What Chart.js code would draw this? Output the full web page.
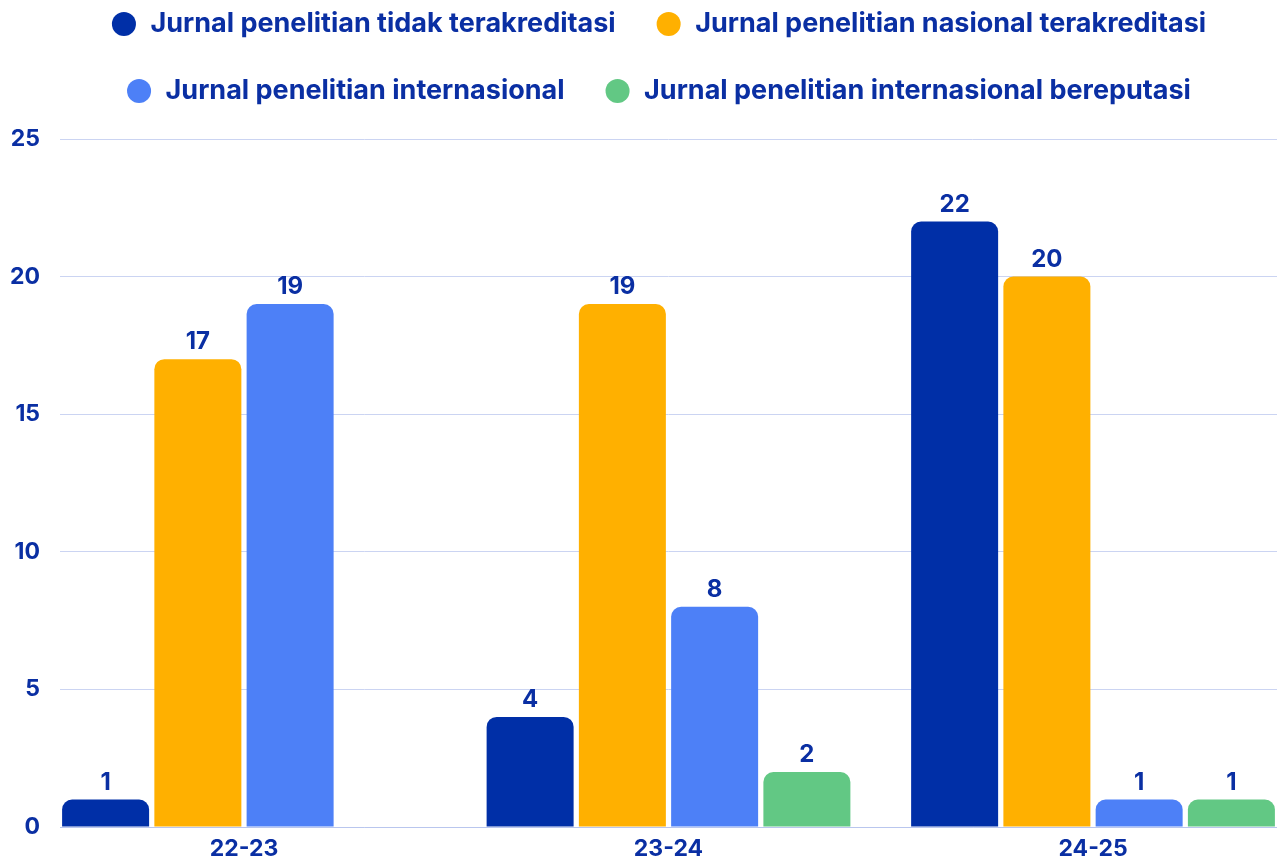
<!DOCTYPE html>
<html>
<head>
<meta charset="utf-8">
<script src="https://cdn.jsdelivr.net/npm/chart.js@4/dist/chart.umd.min.js"></script>
<style>
  html, body { margin: 0; padding: 0; background: #ffffff; }
  #wrap { width: 1277px; height: 863px; position: relative; }
</style>
</head>
<body>
<div id="wrap"><canvas id="c"></canvas></div>
<script>
// ---- data ----
const categories = ['22-23', '23-24', '24-25'];
const seriesNames = [
  'Jurnal penelitian tidak terakreditasi',
  'Jurnal penelitian nasional terakreditasi',
  'Jurnal penelitian internasional',
  'Jurnal penelitian internasional bereputasi'
];
const tidakTerakreditasi = [1, 4, 22];
const nasionalTerakreditasi = [17, 19, 20];
const internasional = [19, 8, 1];
const internasionalBereputasi = [null, 2, 1];
const yTicks = [0, 5, 10, 15, 20, 25];

const seriesValues = [tidakTerakreditasi, nasionalTerakreditasi, internasional, internasionalBereputasi];
const colors = ['#002FA7', '#FFB000', '#4D80F7', '#62C884'];
const textColor = '#0A2FA3';
const FONT = 'Inter, "Open Sans", sans-serif';

const datasets = seriesValues.map((vals, s) => ({
  label: seriesNames[s],
  data: vals.map((v, i) => ({ x: i, y: v })),
  backgroundColor: colors[s],
  borderRadius: 10,
  borderSkipped: 'start',
  categoryPercentage: 0.8693,
  barPercentage: 0.943
}));

const valueLabels = {
  id: 'valueLabels',
  afterDatasetsDraw(chart) {
    const ctx = chart.ctx;
    ctx.save();
    ctx.font = '700 24px ' + FONT;
    ctx.fillStyle = textColor;
    ctx.textAlign = 'center';
    ctx.textBaseline = 'middle';
    chart.data.datasets.forEach((ds, di) => {
      const meta = chart.getDatasetMeta(di);
      meta.data.forEach((bar, i) => {
        const v = ds.data[i].y;
        if (v === null || v === undefined) return;
        ctx.fillText(String(v), bar.x, bar.y - 17);
      });
    });
    ctx.restore();
  }
};

const legendSpace = {
  id: 'legendSpace',
  beforeInit(chart) {
    const orig = chart.legend.fit;
    chart.legend.fit = function () {
      orig.bind(chart.legend)();
      this.height += 24.5;
    };
  },
  afterLayout(chart) {
    chart.legend.left += 20;
    chart.legend.right += 20;
  }
};

new Chart(document.getElementById('c'), {
  type: 'bar',
  data: { datasets },
  plugins: [valueLabels, legendSpace],
  options: {
    responsive: true,
    maintainAspectRatio: false,
    animation: false,
    layout: { padding: { top: -29.5, left: 0, right: 0, bottom: 0 } },
    plugins: {
      tooltip: { enabled: false },
      legend: {
        position: 'top',
        align: 'center',
        labels: {
          usePointStyle: true,
          pointStyle: 'circle',
          boxWidth: 26,
          boxHeight: 17,
          padding: 40,
          color: textColor,
          font: { family: FONT, size: 27, weight: '700' }
        }
      }
    },
    scales: {
      x: {
        type: 'linear',
        offset: false,
        min: -0.4334,
        max: 2.4334,
        afterBuildTicks(scale) {
          scale.ticks = scale.ticks.filter(t => Number.isInteger(t.value) && t.value >= 0 && t.value < categories.length);
        },
        afterFit(scale) { scale.height = 36; },
        ticks: {
          stepSize: 1,
          padding: 8,
          autoSkip: false,
          maxRotation: 0,
          color: textColor,
          font: { family: FONT, size: 23, weight: '700' },
          callback: (v) => categories[v] ?? ''
        },
        grid: { display: false, drawTicks: false },
        border: { display: true, color: '#B9C6EE', width: 1 }
      },
      y: {
        min: 0,
        max: 25,
        afterBuildTicks(scale) {
          scale.ticks = yTicks.map(v => ({ value: v }));
        },
        afterFit(scale) { scale.width = 60; },
        ticks: {
          padding: 20,
          color: textColor,
          font: { family: FONT, size: 23, weight: '700' }
        },
        grid: { color: '#CBD4F2', drawTicks: false, lineWidth: 1 },
        border: { display: false }
      }
    }
  }
});
</script>
</body>
</html>
